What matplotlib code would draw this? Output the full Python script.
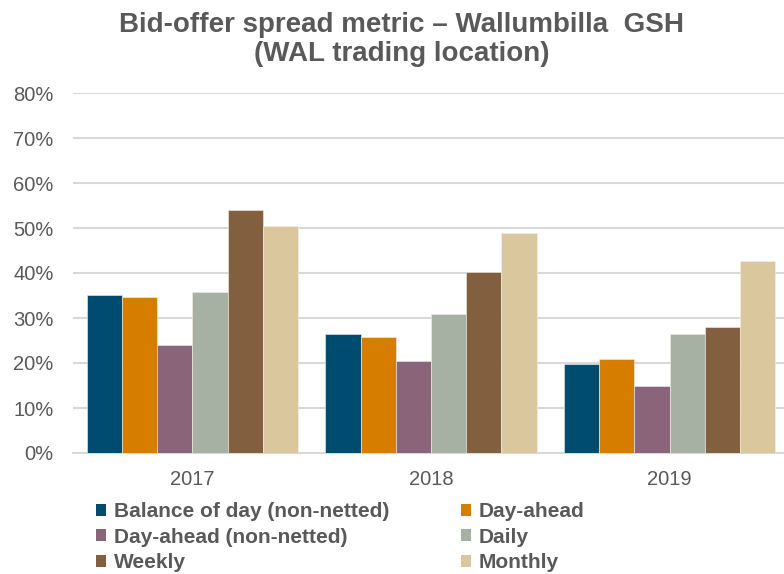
import numpy as np
import matplotlib.pyplot as plt
from matplotlib.patches import Patch

years = ['2017', '2018', '2019']
series = ['Balance of day (non-netted)', 'Day-ahead', 'Day-ahead (non-netted)',
          'Daily', 'Weekly', 'Monthly']
balance_nn = [35.1, 26.4, 19.7]
day_ahead = [34.7, 25.7, 20.8]
day_ahead_nn = [24.0, 20.5, 15.0]
daily = [35.8, 31.0, 26.4]
weekly = [54.0, 40.3, 28.0]
monthly = [50.5, 49.0, 42.6]
values = [balance_nn, day_ahead, day_ahead_nn, daily, weekly, monthly]
colors = ['#004C70', '#D67D00', '#8A6579', '#A6B0A3', '#82603F', '#DBC79E']

txt = '#595959'
plt.rcParams['font.family'] = ['Liberation Sans', 'DejaVu Sans']

fig = plt.figure(figsize=(7.84, 5.74), dpi=100)
ax = fig.add_axes([73/784, 121/574, 716/784, 360/574])

x = np.arange(len(years))
w = 0.885 / len(series)
for k, (vals, c) in enumerate(zip(values, colors)):
    ax.bar(x + (k - 2.5) * w, vals, w, color=c, edgecolor='#f4f0e8', linewidth=0.4,
           zorder=3)

ax.set_xlim(-0.5, 2.5)
ax.set_ylim(0, 80)
ax.set_yticks(range(0, 81, 10))
ax.set_yticklabels([f'{v}%' for v in range(0, 81, 10)])
ax.set_xticks(x)
ax.set_xticklabels(years)
ax.grid(axis='y', color='#d9d9d9', linewidth=1.5, zorder=0)
for s in ['top', 'right', 'left']:
    ax.spines[s].set_visible(False)
ax.spines['bottom'].set_color('#d9d9d9')
ax.spines['bottom'].set_linewidth(1.5)
ax.tick_params(axis='both', length=0, labelsize=14.5, labelcolor=txt)
ax.tick_params(axis='y', pad=14)
ax.tick_params(axis='x', pad=12)

fig.text(0.512, 1 - 32/574, 'Bid-offer spread metric \u2013 Wallumbilla  GSH',
         ha='center', va='baseline', fontsize=20, fontweight='bold', color=txt)
fig.text(0.512, 1 - 61/574, '(WAL trading location)',
         ha='center', va='baseline', fontsize=20, fontweight='bold', color=txt)

handles = [Patch(facecolor=c) for c in colors]
order = [0, 2, 4, 1, 3, 5]
leg = fig.legend([handles[i] for i in order], [series[i] for i in order],
                 loc='upper left', bbox_to_anchor=(96/784, 1 - 502/574), ncol=2,
                 frameon=False, handlelength=0.5, handleheight=0.5,
                 handletextpad=0.34, columnspacing=3.45, labelspacing=0.32,
                 borderpad=0, borderaxespad=0,
                 prop={'size': 15, 'weight': 'bold'})
for t in leg.get_texts():
    t.set_color(txt)

fig.savefig('out.png', dpi=100)
